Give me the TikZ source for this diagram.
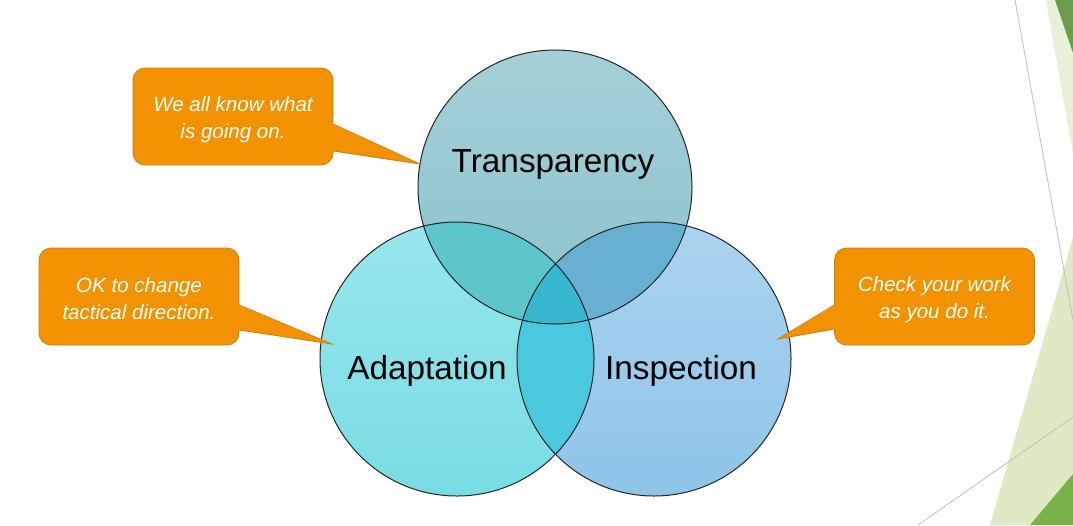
\documentclass[tikz,border=0pt]{standalone}
\usepackage{fontspec}
\setmainfont{Liberation Sans}
\definecolor{lgA}{RGB}{231,241,216}
\definecolor{dgA}{RGB}{108,156,74}
\definecolor{lgB}{RGB}{221,234,196}
\definecolor{dgB}{RGB}{122,177,72}
\definecolor{tTop}{RGB}{165,207,215}
\definecolor{tBot}{RGB}{138,195,203}
\definecolor{aTop}{RGB}{152,230,237}
\definecolor{aBot}{RGB}{120,221,227}
\definecolor{iTop}{RGB}{172,211,240}
\definecolor{iBot}{RGB}{142,196,232}
\definecolor{ovTA}{RGB}{93,197,204}
\definecolor{ovTI}{RGB}{104,176,210}
\definecolor{ovAI}{RGB}{74,201,222}
\definecolor{ovAll}{RGB}{56,183,208}
\definecolor{orFill}{RGB}{242,146,0}
\definecolor{orEdge}{RGB}{205,125,20}
\begin{document}
\begin{tikzpicture}[x=0.75pt,y=-0.75pt,
  venn/.style={circle,minimum size=205.5pt,inner sep=0pt},
  vlabel/.style={font=\fontsize{25}{30}\selectfont,text=black,anchor=base},
  callbox/.style={draw=orEdge,fill=orFill,
    rounded corners=9pt,minimum width=150pt,minimum height=72.75pt,line width=0.6pt},
  calltext/.style={align=center,text=white,inner sep=0pt,
    font=\itshape\fontsize{15.4}{20.25}\selectfont},
  callfill/.style={fill=orFill},
  calledge/.style={draw=orEdge,line width=0.6pt,line join=miter},
  outline/.style={draw=black!85,line width=0.75pt},
  deco/.style={draw=black!25,line width=0.6pt}]
\useasboundingbox (0,0) rectangle (1073,525);
\def\R{102.75pt}
% background decorations
\begin{scope}
\clip (0,0) rectangle (1073,525);
\fill[lgA] (1046,0) -- (1073,0) -- (1073,154) -- cycle;
\fill[dgA] (1055,0) -- (1073,0) -- (1073,53) -- cycle;
\fill[lgB] (990,525) -- (1075,230) -- (1073,525) -- cycle;
\fill[dgB] (1030,525) -- (1073,474) -- (1073,525) -- cycle;
\coordinate (g1) at (1015,0); \coordinate (g2) at (1073,320);
\coordinate (g3) at (918,525); \coordinate (g4) at (1073,417);
\draw[deco] (g1) -- (g2);
\draw[deco] (g3) -- (g4);
\end{scope}
% circles
\node[venn,top color=tTop,bottom color=tBot] (T) at (555,187) {};
\node[venn,top color=aTop,bottom color=aBot] (A) at (457,359) {};
\node[venn,top color=iTop,bottom color=iBot] (I) at (654,359) {};
% overlaps
\begin{scope}
\clip (T.center) circle[radius=\R];
\fill[ovTA] (A.center) circle[radius=\R];
\fill[ovTI] (I.center) circle[radius=\R];
\end{scope}
\begin{scope}
\clip (A.center) circle[radius=\R];
\fill[ovAI] (I.center) circle[radius=\R];
\clip (I.center) circle[radius=\R];
\fill[ovAll] (T.center) circle[radius=\R];
\end{scope}
% outlines
\draw[outline] (T.center) circle[radius=\R];
\draw[outline] (A.center) circle[radius=\R];
\draw[outline] (I.center) circle[radius=\R];
% labels
\node[vlabel] (Tl) at (553,172) {Transparency};
\node[vlabel] (Al) at (427,379) {Adaptation};
\node[vlabel] (Il) at (681,379) {Inspection};
% callouts
\node[callbox] (b1) at (233,116.5) {};
\node[callbox] (b2) at (139,296.5) {};
\node[callbox] (b3) at (934.5,296.5) {};
\node[calltext] (t1) at ([shift={(0,3)}]b1.center) {We all know what\\is going on.};
\node[calltext] (t2) at ([shift={(0,2.5)}]b2.center) {OK to change\\tactical direction.};
\node[calltext] (t3) at ([shift={(0,3.5)}]b3.center) {Check your work\\as you do it.};
\coordinate (p1) at (420,164);
\coordinate (p2) at (332,344);
\coordinate (p3) at (778,339);
\fill[callfill] ([shift={(-1.5,7.5)}]b1.east) -- (p1) -- ([shift={(-1.5,34.5)}]b1.east) -- cycle;
\draw[calledge] ([shift={(0,7.5)}]b1.east) -- (p1) -- ([shift={(0,34.5)}]b1.east);
\fill[callfill] ([shift={(-1.5,8.5)}]b2.east) -- (p2) -- ([shift={(-1.5,33.5)}]b2.east) -- cycle;
\draw[calledge] ([shift={(0,8.5)}]b2.east) -- (p2) -- ([shift={(0,33.5)}]b2.east);
\fill[callfill] ([shift={(1.5,8.5)}]b3.west) -- (p3) -- ([shift={(1.5,32.5)}]b3.west) -- cycle;
\draw[calledge] ([shift={(0,8.5)}]b3.west) -- (p3) -- ([shift={(0,32.5)}]b3.west);
\end{tikzpicture}
\end{document}
